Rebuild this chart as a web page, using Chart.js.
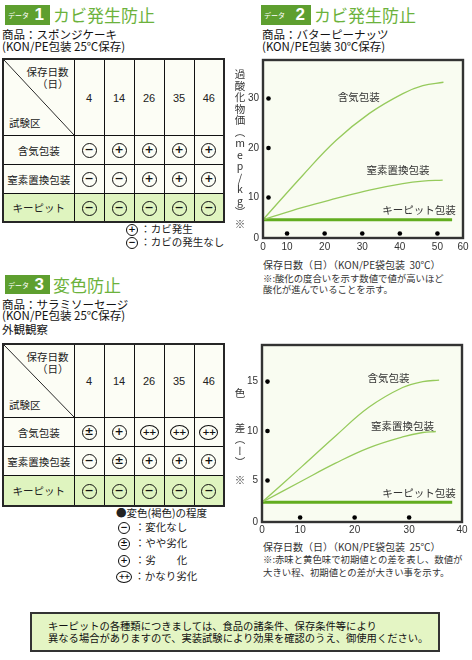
<!DOCTYPE html>
<html><head><meta charset="utf-8">
<script src="https://cdn.jsdelivr.net/npm/chart.js@4.4.0/dist/chart.umd.min.js"></script>
<style>
body{margin:0;background:#fff;font-family:'Noto Sans CJK JP','Noto Sans',sans-serif;color:#1a1a1a;}
#page{position:relative;width:472px;height:660px;overflow:hidden;}
.abs{position:absolute;white-space:nowrap;line-height:1;}
.badge{position:absolute;background:#5e9f2f;color:#fff;}
.badge .s{position:absolute;left:3px;top:7px;font-size:7px;line-height:1;}
.badge .n{position:absolute;right:6px;top:1px;font-size:17px;font-weight:bold;line-height:1;font-family:'Liberation Sans',sans-serif;}
.ttl{position:absolute;color:#6cb23c;font-size:17px;line-height:1;white-space:nowrap;}
.sub{position:absolute;font-size:11.5px;line-height:11.5px;white-space:nowrap;color:#111;}
table.t{position:absolute;border-collapse:collapse;table-layout:fixed;border:2px solid #262626;}
table.t td{border:1px solid #111;padding:0;text-align:center;font-size:10.5px;background:#fcfdf5;color:#222;}
table.t tr.kp td{background:#dff4bf;}
table.t td.hd{background:linear-gradient(to top right,#fcfdf5 calc(50% - 0.7px),#222 50%,#fcfdf5 calc(50% + 0.7px));}
.hdw{position:relative;width:100%;height:100%;}
.hdw span{position:absolute;font-size:10.5px;line-height:1;white-space:nowrap;}
.m{display:inline-block;box-sizing:border-box;width:15px;height:15px;border:1.3px solid #111;border-radius:50%;line-height:12px;font-size:11px;font-weight:bold;text-align:center;font-family:'DejaVu Sans',sans-serif;color:#111;vertical-align:middle;}
.m.w{width:19px;font-size:9px;letter-spacing:-1px;}
.m.sm{width:12px;height:12px;line-height:9.5px;font-size:9px;}
.m.sm.w{width:16px;font-size:7.5px;}
.lg{position:absolute;font-size:10.5px;line-height:1;white-space:nowrap;color:#222;}
.vl{position:absolute;writing-mode:vertical-rl;text-orientation:upright;font-size:10.5px;letter-spacing:1px;line-height:1;color:#333;}
.note{position:absolute;font-size:9.4px;line-height:1;white-space:nowrap;color:#333;}
canvas{position:absolute;}
#box{position:absolute;left:30px;top:612px;width:406px;height:36px;border:2px solid #333;background:#e4f5c4;}
#box div{position:absolute;left:16px;font-size:10.3px;line-height:1;white-space:nowrap;color:#111;}
</style></head>
<body><div id="page">
<!-- section 1 -->
<div class="badge" style="left:5px;top:5px;width:45px;height:20px;"><span class="s">データ</span><span class="n">1</span></div>
<div class="ttl" style="left:53px;top:6px;">カビ発生防止</div>
<div class="sub" style="left:2px;top:29px;">商品：スポンジケーキ</div>
<div class="sub" style="left:2px;top:41px;">(KON/PE包装 25℃保存)</div>
<table class="t" id="t1" style="left:2px;top:58px;"></table>
<div class="lg" style="left:126px;top:224px;"><span class="m sm">+</span> ：カビ発生</div>
<div class="lg" style="left:126px;top:237px;"><span class="m sm">−</span> ：カビの発生なし</div>

<!-- section 2 -->
<div class="badge" style="left:261px;top:5px;width:50px;height:20px;"><span class="s">データ</span><span class="n">2</span></div>
<div class="ttl" style="left:314px;top:6px;">カビ発生防止</div>
<div class="sub" style="left:262px;top:29px;">商品：バターピーナッツ</div>
<div class="sub" style="left:262px;top:41px;">(KON/PE包装 30℃保存)</div>
<canvas id="c2" width="236" height="200" style="left:236px;top:50px;"></canvas>
<div class="vl" style="left:234px;top:69px;">過酸化物価（mep/kg）※</div>
<div class="note" style="left:263px;top:260px;font-size:10px;">保存日数（日）（KON/PE袋包装&nbsp;&nbsp;30℃）</div>
<div class="note" style="left:263px;top:274px;">※:酸化の度合いを示す数値で値が高いほど</div>
<div class="note" style="left:263px;top:285px;">酸化が進んでいることを示す。</div>

<!-- section 3 -->
<div class="badge" style="left:5px;top:275px;width:45px;height:19px;"><span class="s">データ</span><span class="n">3</span></div>
<div class="ttl" style="left:53px;top:276px;">変色防止</div>
<div class="sub" style="left:2px;top:299px;">商品：サラミソーセージ</div>
<div class="sub" style="left:2px;top:310px;">(KON/PE包装 25℃保存)</div>
<div class="sub" style="left:2px;top:324px;">外観観察</div>
<table class="t" id="t3" style="left:2px;top:343px;"></table>
<div class="lg" style="left:116px;top:508px;">●変色(褐色)の程度</div>
<div class="lg" style="left:118px;top:522px;"><span class="m sm">−</span>&nbsp; ：変化なし</div>
<div class="lg" style="left:118px;top:538px;"><span class="m sm">±</span>&nbsp; ：やや劣化</div>
<div class="lg" style="left:118px;top:555px;"><span class="m sm">+</span>&nbsp; ：劣　　化</div>
<div class="lg" style="left:116px;top:571px;"><span class="m sm w">++</span> ：かなり劣化</div>

<canvas id="c3" width="236" height="200" style="left:236px;top:335px;"></canvas>
<div class="vl" style="left:234px;top:388px;">色　　差（ー）　※</div>
<div class="note" style="left:263px;top:542px;font-size:10px;">保存日数（日）（KON/PE袋包装&nbsp;&nbsp;25℃）</div>
<div class="note" style="left:263px;top:555px;">※:赤味と黄色味で初期値との差を表し、数値が</div>
<div class="note" style="left:263px;top:568px;">大きい程、初期値との差が大きい事を示す。</div>

<div id="box">
<div style="top:7px;">キーピットの各種類につきましては、食品の諸条件、保存条件等により</div>
<div style="top:19px;">異なる場合がありますので、実装試験により効果を確認のうえ、御使用ください。</div>
</div>
</div>
<script>
// ---- table data ----
const DAYS = [4, 14, 26, 35, 46];
const TEST_GROUPS = ['含気包装', '窒素置換包装', 'キーピット'];
const MOLD_RESULTS = [
  ['-', '+', '+', '+', '+'],
  ['-', '-', '+', '+', '+'],
  ['-', '-', '-', '-', '-']
];
const COLOR_RESULTS = [
  ['±', '+', '++', '++', '++'],
  ['-', '±', '+', '+', '+'],
  ['-', '-', '-', '-', '-']
];

// ---- chart 2: peroxide value (butter peanuts, 30℃) ----
const PV_X_TICKS = [3.6, 10, 20, 30, 40, 50, 56.8];
const PV_X_LABELS = ['0', '10', '20', '30', '40', '50', '60'];
const PV_Y_TICKS = [1.8, 10, 20, 30];
const PV_Y_LABELS = ['0', '10', '20', '30'];
const PV_Y_MAX = 37.8;
const PV_AIR_DAYS = [3.6, 14.2, 23, 31.9, 40.8, 46.1, 51.6];
const PV_AIR = [5.5, 14.5, 21.5, 27.0, 31.0, 32.6, 33.3];
const PV_N2_DAYS = [3.6, 14.2, 23, 31.9, 40.8, 46.1, 51.4];
const PV_N2 = [5.5, 8.0, 9.8, 11.5, 12.8, 13.3, 13.5];
const PV_KP_DAYS = [3.6, 53.9];
const PV_KP = [5.5, 5.5];

// ---- chart 3: colour difference (salami, 25℃) ----
const CD_X_TICKS = [3.0, 10, 20, 30, 39.7];
const CD_X_LABELS = ['0', '10', '20', '30', '40'];
const CD_Y_TICKS = [0.8, 5, 10, 15];
const CD_Y_LABELS = ['0', '5', '10', '15'];
const CD_Y_MAX = 18.7;
const CD_AIR_DAYS = [3.0, 10.3, 16.5, 22.6, 28.8, 32.5, 35.5];
const CD_AIR = [2.8, 6.4, 9.5, 12.4, 14.4, 15.0, 15.15];
const CD_N2_DAYS = [3.0, 10.3, 16.5, 22.6, 28.8, 32.5, 34.9];
const CD_N2 = [2.8, 4.95, 6.75, 8.3, 9.4, 9.85, 9.95];
const CD_KP_DAYS = [3.0, 37.9];
const CD_KP = [2.8, 2.8];

const SERIES_NAMES = ['含気包装', '窒素置換包装', 'キーピット包装'];

// ---- tables ----
function sym(m) {
  const g = m === '-' ? '−' : m;
  return '<span class="m' + (m === '++' ? ' w' : '') + '">' + g + '</span>';
}
function buildTable(id, headH, rowHs, marks) {
  let h = '<colgroup><col style="width:71px">' + DAYS.map(() => '<col style="width:30px">').join('') + '</colgroup>';
  h += '<tr style="height:' + headH + 'px"><td class="hd"><div class="hdw" style="height:' + headH + 'px">' +
    '<span style="right:5px;top:7px;">保存日数</span><span style="right:5px;top:19px;">（日）</span>' +
    '<span style="left:5px;bottom:7px;">試験区</span></div></td>' +
    DAYS.map(d => '<td style="font-family:\'Liberation Sans\',sans-serif;font-size:11px;">' + d + '</td>').join('') + '</tr>';
  TEST_GROUPS.forEach((n, i) => {
    h += '<tr style="height:' + rowHs[i] + 'px"' + (i === 2 ? ' class="kp"' : '') + '><td>' + n + '</td>' +
      marks[i].map(m => '<td>' + sym(m) + '</td>').join('') + '</tr>';
  });
  document.getElementById(id).innerHTML = h;
}
buildTable('t1', 75, [29, 29, 28], MOLD_RESULTS);
buildTable('t3', 72, [29, 29, 30], COLOR_RESULTS);

// ---- charts ----
const deco = {
  id: 'deco',
  beforeDraw(chart, args, o) {
    const { ctx, chartArea: a } = chart;
    ctx.save(); ctx.fillStyle = o.bg;
    ctx.fillRect(a.left, a.top, a.right - a.left, a.bottom - a.top);
    ctx.restore();
  },
  afterDatasetsDraw(chart, args, o) {
    const { ctx, chartArea: a, scales: { x, y } } = chart;
    ctx.save();
    ctx.fillStyle = '#000';
    o.yDots.forEach(v => { ctx.beginPath(); ctx.arc(a.left + o.dx, y.getPixelForValue(v), 2.3, 0, Math.PI * 2); ctx.fill(); });
    o.xDots.forEach(v => { ctx.beginPath(); ctx.arc(x.getPixelForValue(v), a.bottom - o.dy, 2.3, 0, Math.PI * 2); ctx.fill(); });
    ctx.font = '10.5px "Noto Sans CJK JP"'; ctx.fillStyle = '#333';
    ctx.textAlign = 'center'; ctx.textBaseline = 'middle';
    chart.data.datasets.forEach(ds => {
      if (ds.tag) ctx.fillText(ds.label, x.getPixelForValue(ds.tag[0]), y.getPixelForValue(ds.tag[1]));
    });
    ctx.strokeStyle = '#333'; ctx.lineWidth = 2.4;
    ctx.strokeRect(a.left, a.top, a.right - a.left, a.bottom - a.top);
    ctx.restore();
  }
};

function pts(xs, ys) { return xs.map((v, i) => ({ x: v, y: ys[i] })); }

function makeChart(id, c) {
  const curve = { borderColor: '#96ca5c', borderWidth: 1.3, pointRadius: 0, tension: 0.4, fill: false };
  new Chart(document.getElementById(id), {
    type: 'line',
    data: {
      datasets: [
        Object.assign({ label: SERIES_NAMES[0], data: pts(c.airX, c.air), tag: c.tags[0] }, curve),
        Object.assign({ label: SERIES_NAMES[1], data: pts(c.n2X, c.n2), tag: c.tags[1] }, curve),
        { label: SERIES_NAMES[2], data: pts(c.kpX, c.kp), tag: c.tags[2], borderColor: '#62ad1f', borderWidth: 3, pointRadius: 0, tension: 0, fill: false }
      ]
    },
    options: {
      responsive: false, animation: false, devicePixelRatio: 1,
      layout: { padding: { top: c.padTop, right: c.padRight, left: 0, bottom: 0 } },
      plugins: {
        legend: { display: false }, tooltip: { enabled: false },
        deco: { bg: '#f9fcf1', yDots: c.yTicks.slice(1), xDots: c.xTicks.slice(1, c.xTicks.length - 1), dx: 5.5, dy: 4.5 }
      },
      scales: {
        x: {
          type: 'linear', min: c.xTicks[0], max: c.xTicks[c.xTicks.length - 1],
          afterBuildTicks: s => { s.ticks = c.xTicks.map(v => ({ value: v })); },
          afterFit: s => { s.height = c.xH; },
          ticks: { autoSkip: false, maxRotation: 0, padding: c.xPad, color: '#333', font: { size: 10, family: 'Liberation Sans' },
            callback: (v, i) => c.xLabels[i] },
          grid: { display: false, drawTicks: false }, border: { display: false }
        },
        y: {
          type: 'linear', min: c.yTicks[0], max: c.yMax,
          afterBuildTicks: s => { s.ticks = c.yTicks.map(v => ({ value: v })); },
          afterFit: s => { s.width = c.yW; },
          ticks: { autoSkip: false, padding: 4, color: '#333', font: { size: 10, family: 'Liberation Sans' },
            callback: (v, i) => c.yLabels[i] },
          grid: { display: false, drawTicks: false }, border: { display: false }
        }
      }
    },
    plugins: [deco]
  });
}

makeChart('c2', {
  airX: PV_AIR_DAYS, air: PV_AIR, n2X: PV_N2_DAYS, n2: PV_N2, kpX: PV_KP_DAYS, kp: PV_KP,
  xTicks: PV_X_TICKS, xLabels: PV_X_LABELS, yTicks: PV_Y_TICKS, yLabels: PV_Y_LABELS, yMax: PV_Y_MAX,
  tags: [[29.1, 30.4], [39.5, 15.6], [45.1, 7.4]],
  padTop: 8, padRight: 9, xH: 12, yW: 27, xPad: 3
});
makeChart('c3', {
  airX: CD_AIR_DAYS, air: CD_AIR, n2X: CD_N2_DAYS, n2: CD_N2, kpX: CD_KP_DAYS, kp: CD_KP,
  xTicks: CD_X_TICKS, xLabels: CD_X_LABELS, yTicks: CD_Y_TICKS, yLabels: CD_Y_LABELS, yMax: CD_Y_MAX,
  tags: [[26.2, 15.4], [28.8, 10.5], [31.8, 3.7]],
  padTop: 8, padRight: 10, xH: 13, yW: 26, xPad: 2
});
</script>
</body></html>
